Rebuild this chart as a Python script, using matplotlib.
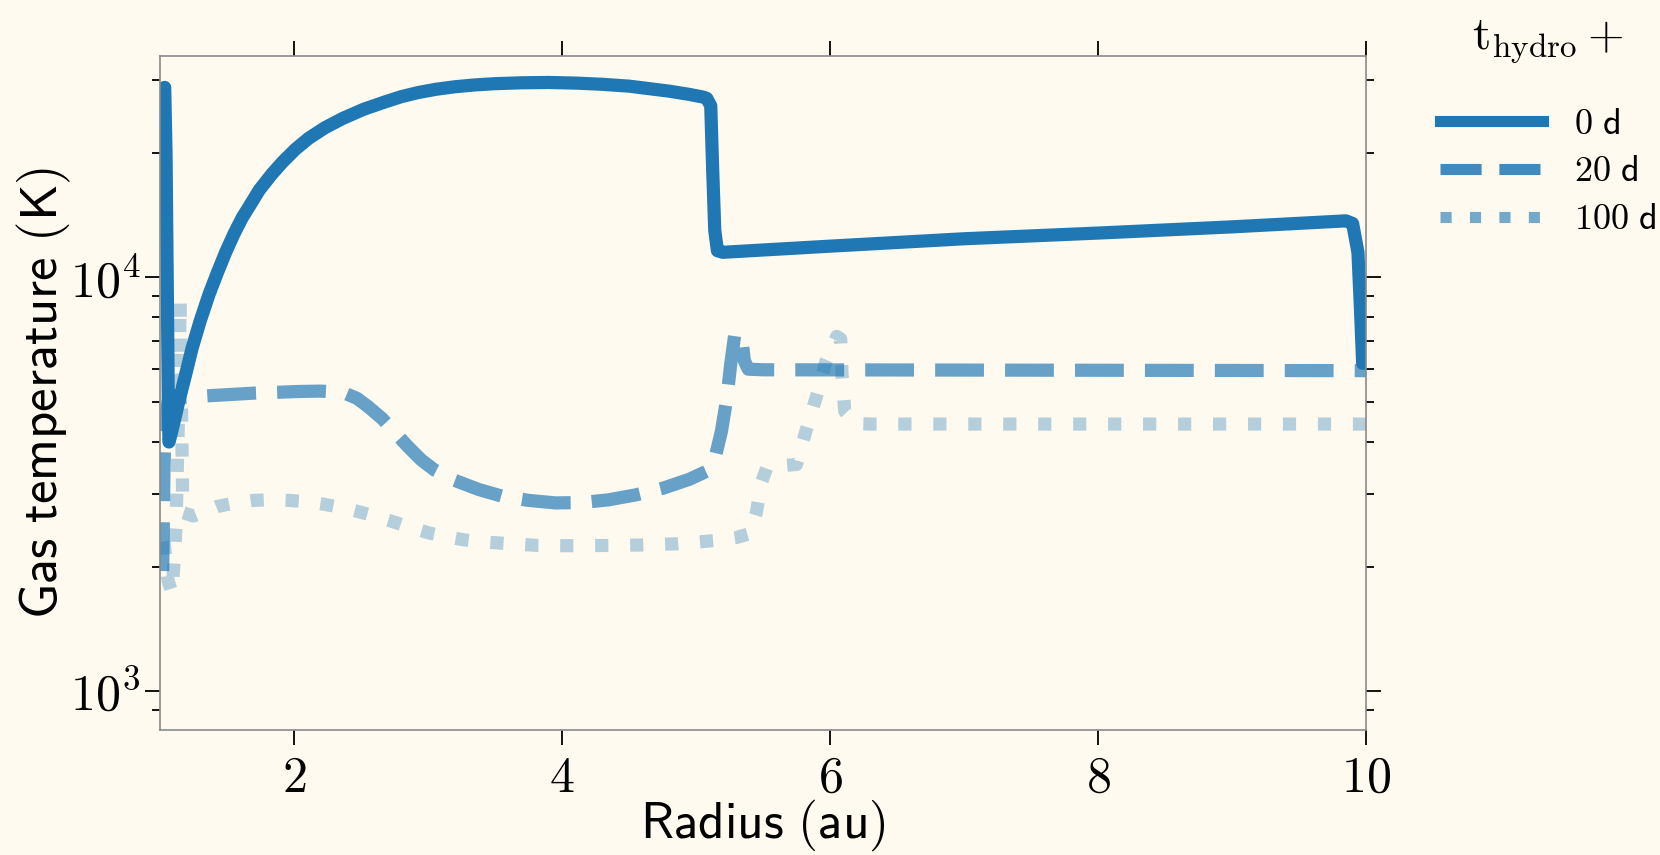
import matplotlib
matplotlib.use("Agg")
import matplotlib.pyplot as plt
import numpy as np
from matplotlib.ticker import FixedLocator, FixedFormatter, LogLocator, NullFormatter, NullLocator
from matplotlib.lines import Line2D

plt.rcParams['mathtext.fontset'] = 'cm'

# ---------------- data ----------------
radius_0d = [1.035, 1.045, 1.055, 1.062, 1.067, 1.08, 1.11, 1.14, 1.19, 1.24, 1.30,
             1.366, 1.43, 1.49, 1.55, 1.614, 1.68, 1.74, 1.83, 1.914, 2.01, 2.11,
             2.23, 2.36, 2.52, 2.685, 2.80, 2.93, 3.06, 3.2, 3.35, 3.5, 3.7, 3.9,
             4.1, 4.3, 4.5, 4.65, 4.8, 4.95, 5.05, 5.08, 5.11, 5.125, 5.14, 5.16,
             5.2, 6.0, 7.0, 8.0, 9.0, 9.85, 9.9, 9.94, 9.96, 9.975]
temp_0d = [28800, 20000, 9000, 5000, 4000, 4150, 4550, 5010, 5800, 6750, 7850,
           9100, 10300, 11500, 12700, 13950, 15100, 16250, 17700, 19000, 20400, 21700,
           23000, 24200, 25500, 26600, 27350, 28000, 28500, 28900, 29200, 29400, 29550, 29600,
           29500, 29300, 29000, 28600, 28200, 27700, 27300, 27100, 26000, 18000, 13000, 11600,
           11500, 11900, 12400, 12800, 13250, 13700, 13500, 11500, 8200, 6200]

radius_20d = [1.02, 1.025, 1.03, 1.04, 1.06, 1.1, 1.34, 1.7, 2.04, 2.2, 2.3, 2.39,
              2.47, 2.55, 2.66, 2.75, 2.85, 2.95, 3.05, 3.2, 3.38, 3.55, 3.75, 3.95,
              4.15, 4.35, 4.55, 4.75, 4.95, 5.08, 5.15, 5.19, 5.23, 5.26, 5.29, 5.34,
              5.36, 5.39, 5.5, 10.0]
temp_20d = [1950, 2600, 3500, 4500, 5000, 5100, 5170, 5250, 5300, 5310, 5290, 5230,
            5100, 4880, 4550, 4230, 3900, 3620, 3420, 3230, 3070, 2960, 2890, 2850,
            2855, 2900, 2980, 3090, 3250, 3400, 3750, 4250, 5100, 6200, 7300, 7250,
            6300, 6000, 5980, 5950]

radius_100d = [1.03, 1.06, 1.09, 1.12, 1.14, 1.15, 1.16, 1.17, 1.25, 1.42, 1.56, 1.70,
               1.83, 1.96, 2.09, 2.22, 2.35, 2.49, 2.62, 2.75, 2.88, 3.01, 3.14, 3.27,
               3.40, 3.53, 3.81, 4.1, 4.4, 4.6, 4.86, 5.13, 5.3, 5.40, 5.45, 5.49,
               5.53, 5.75, 5.82, 5.90, 5.97, 6.05, 6.08, 6.09, 6.11, 6.2, 6.31, 10.0]
temp_100d = [2300, 1850, 1720, 2500, 5000, 8800, 5000, 2700, 2650, 2790, 2850, 2890,
             2900, 2890, 2870, 2830, 2780, 2710, 2640, 2560, 2480, 2410, 2360, 2320,
             2295, 2280, 2250, 2245, 2250, 2255, 2270, 2310, 2350, 2400, 2700, 3200,
             3480, 3530, 4250, 5170, 6270, 7200, 7100, 5800, 4750, 4430, 4420, 4420]

days = [0, 20, 100]
x_ticks = [2, 4, 6, 8, 10]
x_tick_labels = ['2', '4', '6', '8', '10']
y_ticks = [1e3, 1e4]
y_tick_labels = [r'$10^{3}$', r'$10^{4}$']

# ---------------- styling ----------------
bg = '#fffaf0'
blue = '#1f77b4'
fig = plt.figure(figsize=(16.6, 8.55), dpi=100, facecolor=bg)
ax = fig.add_axes([160/1660, 1 - 730/855, (1366-160)/1660, (730-56)/855])
ax.set_facecolor(bg)

lw = 9.5
ax.plot(radius_0d, temp_0d, color=blue, lw=lw, ls='-', solid_capstyle='round',
        solid_joinstyle='round', alpha=1.0)
ax.plot(radius_20d, temp_20d, color=blue, lw=lw, ls='--', alpha=0.68,
        dash_joinstyle='round')
ax.plot(radius_100d, temp_100d, color=blue, lw=lw, ls=':', alpha=0.33,
        dash_joinstyle='round')

ax.set_yscale('log')
ax.set_xlim(1, 10)
ax.set_ylim(805, 34300)

ax.xaxis.set_major_locator(FixedLocator(x_ticks))
ax.xaxis.set_major_formatter(FixedFormatter(['$' + s + '$' for s in x_tick_labels]))
ax.xaxis.set_minor_locator(NullLocator())
ax.yaxis.set_major_locator(FixedLocator(y_ticks))
ax.yaxis.set_major_formatter(FixedFormatter(y_tick_labels))
ax.yaxis.set_minor_locator(LogLocator(base=10, subs=np.arange(2, 10)))
ax.yaxis.set_minor_formatter(NullFormatter())

ax.tick_params(which='both', direction='out', top=True, right=True,
               color='black', labelcolor='black', width=1.3)
ax.tick_params(which='major', length=11, labelsize=36)
ax.tick_params(which='minor', length=6)
ax.tick_params(axis='x', which='major', pad=6)
ax.tick_params(axis='y', which='major', pad=3)

for s in ax.spines.values():
    s.set_color('#8a8a8a')
    s.set_linewidth(1.2)

ax.set_xlabel(r'$\mathsf{Radius\ (au)}$', fontsize=37, labelpad=-3)
ax.set_ylabel(r'$\mathsf{Gas\ temperature\ (K)}$', fontsize=38, labelpad=-2)

# legend
leg_alpha = [1.0, 0.85, 0.62]
styles = ['-', '--', ':']
handles = [Line2D([], [], color=blue, lw=8, ls=st, alpha=a, solid_capstyle='projecting')
           for st, a in zip(styles, leg_alpha)]
labels = [r'$\mathsf{%d\ d}$' % d for d in days]
leg = ax.legend(handles, labels, loc='upper left',
                bbox_to_anchor=(1440/1660, 1 - 14/855), bbox_transform=fig.transFigure,
                frameon=False, fontsize=26, title=r'$\mathrm{t}_{\mathrm{hydro}}+$',
                title_fontsize=34, handlelength=2.85, handletextpad=0.85,
                labelspacing=0.38, borderpad=0, borderaxespad=0)
leg._legend_box.sep = 30

fig.savefig('out.png', dpi=100, facecolor=bg)
